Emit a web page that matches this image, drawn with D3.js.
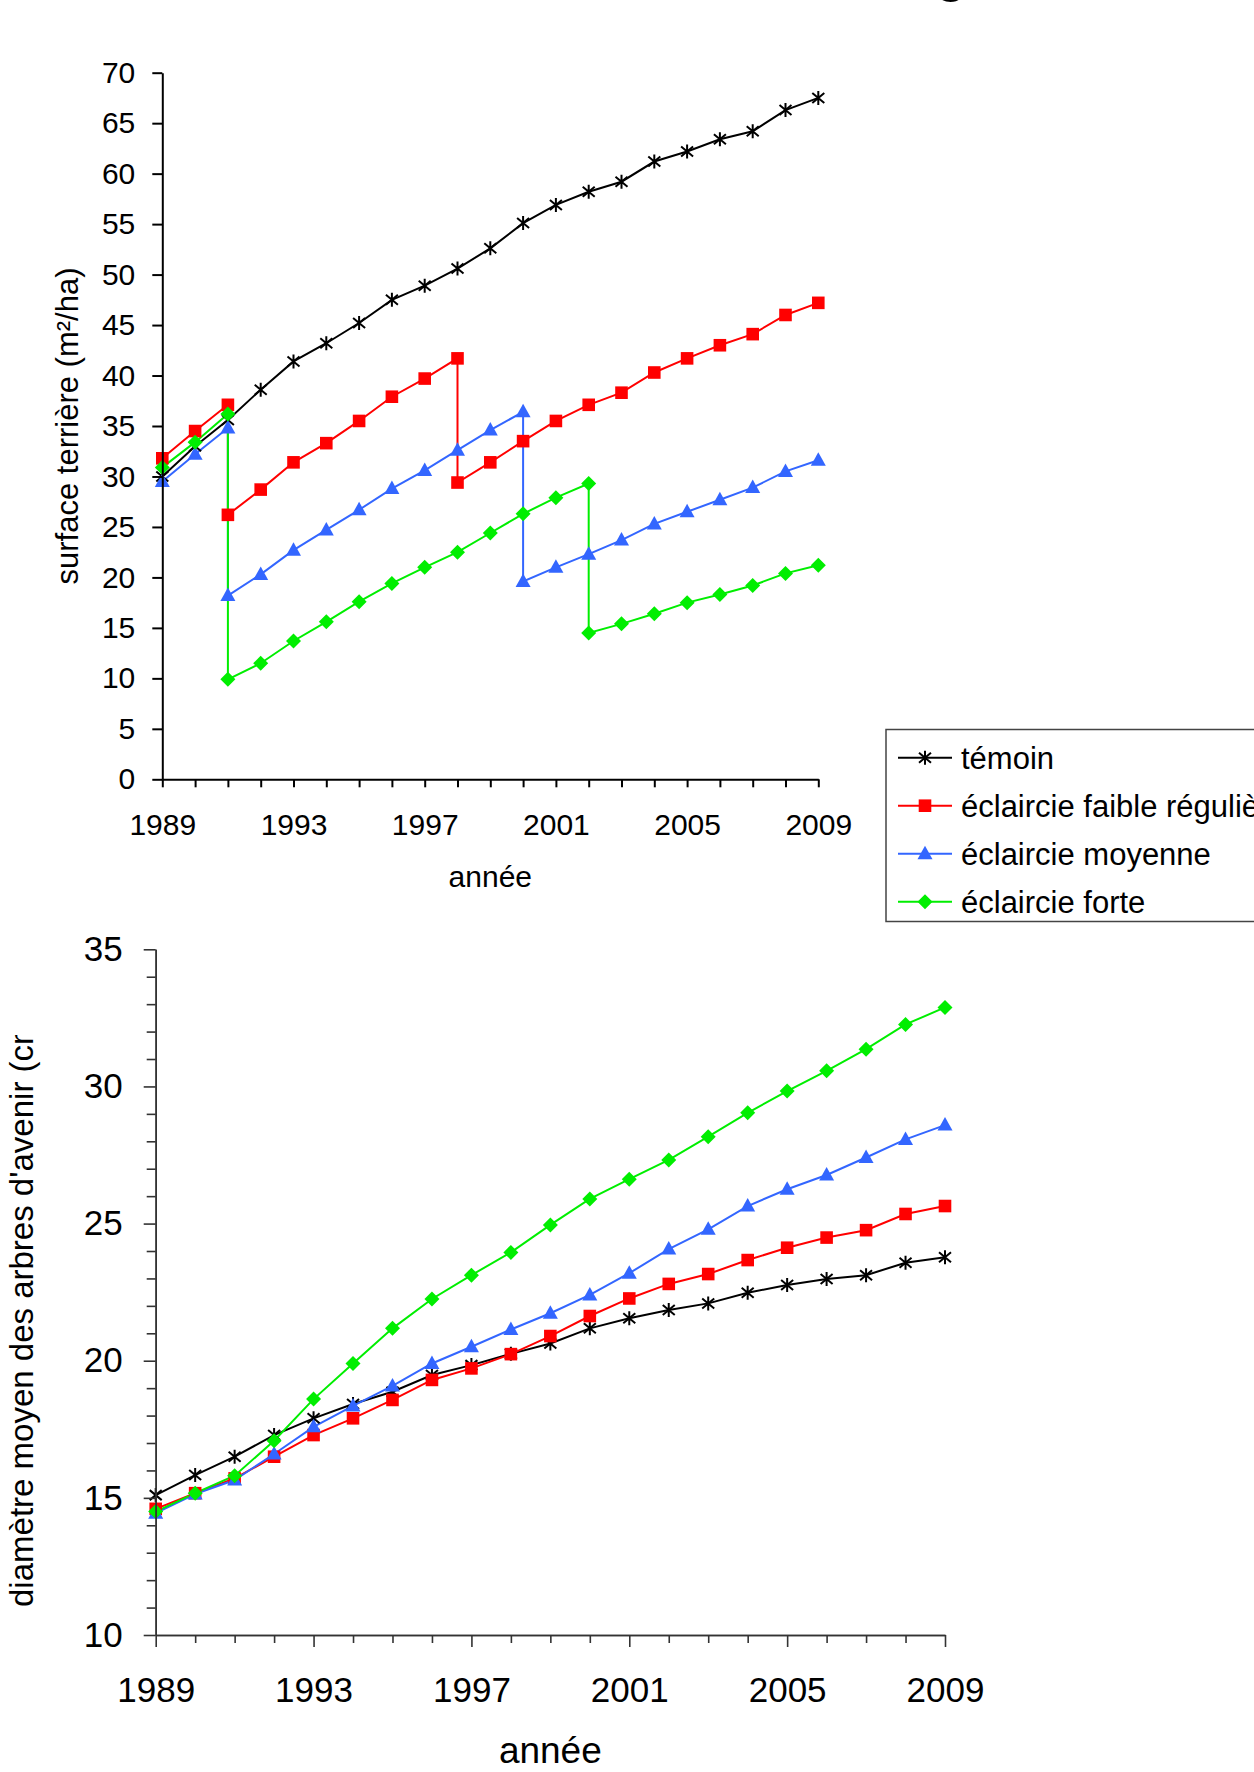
<!DOCTYPE html>
<html>
<head>
<meta charset="utf-8">
<script src="https://d3js.org/d3.v7.min.js"></script>
<style>
  body { margin: 0; background: #fff; }
  svg { display: block; font-family: "Liberation Sans", Arial, sans-serif; }
  .axis text { fill: #000; }
</style>
</head>
<body>
<div id="chart"></div>
<script>
// years on the x axis
var years = [1989, 1990, 1991, 1992, 1993, 1994, 1995, 1996, 1997, 1998, 1999,
             2000, 2001, 2002, 2003, 2004, 2005, 2006, 2007, 2008, 2009];
var labelYears = [1989, 1993, 1997, 2001, 2005, 2009];

var seriesNames = ["témoin", "éclaircie faible régulière", "éclaircie moyenne", "éclaircie forte"];
var seriesColors = ["#000000", "#ff0000", "#3366ff", "#00ee00"];
var seriesShapes = ["star", "square", "triangle", "diamond"];

// surface terrière (m²/ha) : [year, value], a thinning year appears twice (before / after)
var temoinG = [[1989, 30.0], [1990, 33.0], [1991, 35.6], [1992, 38.6], [1993, 41.4], [1994, 43.2],
  [1995, 45.2], [1996, 47.5], [1997, 48.9], [1998, 50.6], [1999, 52.6], [2000, 55.1], [2001, 56.9],
  [2002, 58.2], [2003, 59.2], [2004, 61.2], [2005, 62.2], [2006, 63.4], [2007, 64.2], [2008, 66.3], [2009, 67.5]];
var faibleG = [[1989, 31.8], [1990, 34.5], [1991, 37.1], [1991, 26.2], [1992, 28.7], [1993, 31.4],
  [1994, 33.3], [1995, 35.5], [1996, 37.9], [1997, 39.7], [1998, 41.7], [1998, 29.4], [1999, 31.4],
  [2000, 33.5], [2001, 35.5], [2002, 37.1], [2003, 38.3], [2004, 40.3], [2005, 41.7], [2006, 43.0],
  [2007, 44.1], [2008, 46.0], [2009, 47.2]];
var moyenneG = [[1989, 29.5], [1990, 32.2], [1991, 34.8], [1991, 18.2], [1992, 20.3], [1993, 22.7],
  [1994, 24.7], [1995, 26.7], [1996, 28.8], [1997, 30.6], [1998, 32.6], [1999, 34.6], [2000, 36.4],
  [2000, 19.6], [2001, 21.0], [2002, 22.3], [2003, 23.7], [2004, 25.3], [2005, 26.5], [2006, 27.7],
  [2007, 28.9], [2008, 30.5], [2009, 31.6]];
var forteG = [[1989, 30.9], [1990, 33.4], [1991, 36.2], [1991, 9.9], [1992, 11.5], [1993, 13.7],
  [1994, 15.6], [1995, 17.6], [1996, 19.4], [1997, 21.0], [1998, 22.5], [1999, 24.4], [2000, 26.3],
  [2001, 27.9], [2002, 29.3], [2002, 14.5], [2003, 15.4], [2004, 16.4], [2005, 17.5], [2006, 18.3],
  [2007, 19.2], [2008, 20.4], [2009, 21.2]];

// diamètre moyen des arbres d'avenir (cm), one value per year
var temoinD = [15.10, 15.83, 16.50, 17.29, 17.90, 18.42, 18.87, 19.48, 19.84, 20.25, 20.63,
  21.18, 21.55, 21.85, 22.09, 22.48, 22.76, 22.98, 23.12, 23.57, 23.77];
var faibleD = [14.60, 15.17, 15.71, 16.50, 17.29, 17.90, 18.57, 19.30, 19.72, 20.24, 20.90,
  21.63, 22.27, 22.80, 23.16, 23.67, 24.12, 24.49, 24.76, 25.35, 25.64];
var moyenneD = [14.44, 15.14, 15.65, 16.60, 17.59, 18.35, 19.08, 19.90, 20.51, 21.14, 21.73,
  22.40, 23.19, 24.07, 24.79, 25.64, 26.25, 26.77, 27.41, 28.07, 28.59];
var forteD = [14.50, 15.17, 15.81, 17.08, 18.60, 19.90, 21.18, 22.25, 23.12, 23.95, 24.95,
  25.90, 26.62, 27.32, 28.17, 29.04, 29.83, 30.57, 31.36, 32.26, 32.88];

var topTicks = [0, 5, 10, 15, 20, 25, 30, 35, 40, 45, 50, 55, 60, 65, 70];
var botTicks = [10, 15, 20, 25, 30, 35];
var botMinor = [11, 12, 13, 14, 16, 17, 18, 19, 21, 22, 23, 24, 26, 27, 28, 29, 31, 32, 33, 34];

var W = 1254, H = 1772;
var svg = d3.select("#chart").append("svg").attr("width", W).attr("height", H);

// marker paths
function marker(shape) {
  if (shape == "square") return "M-6.3,-6.3H6.3V6.3H-6.3Z";
  if (shape == "triangle") return "M0,-8L7.5,5.5H-7.5Z";
  if (shape == "diamond") return "M0,-7.5L7.5,0L0,7.5L-7.5,0Z";
  return "M0,-7V7M-6,-5L6,5M-6,5L6,-5";
}
function drawMarkers(g, pts, i) {
  g.selectAll(null).data(pts).enter().append("path")
    .attr("transform", function(d) { return "translate(" + d[0] + "," + d[1] + ")"; })
    .attr("d", marker(seriesShapes[i]))
    .attr("fill", seriesShapes[i] == "star" ? "none" : seriesColors[i])
    .attr("stroke", seriesShapes[i] == "star" ? seriesColors[i] : "none")
    .attr("stroke-width", 2);
}

// fragment of the cut title
svg.append("text").attr("x", 936).attr("y", -8)
  .attr("font-size", 50).attr("font-weight", "bold").text("g");

// ---------- top chart ----------
var xT = d3.scaleLinear().domain([1989, 2009]).range([162.3, 818.3]);
var yT = d3.scaleLinear().domain([0, 70]).range([779.3, 72.7]);

var gTop = svg.append("g");
var lineT = d3.line().x(function(d) { return xT(d[0]); }).y(function(d) { return yT(d[1]); });

[temoinG, faibleG, moyenneG, forteG].forEach(function(s, i) {
  gTop.append("path").datum(s).attr("d", lineT)
    .attr("fill", "none").attr("stroke", seriesColors[i]).attr("stroke-width", 2);
});
[temoinG, faibleG, moyenneG, forteG].forEach(function(s, i) {
  drawMarkers(gTop, s.map(function(d) { return [xT(d[0]), yT(d[1])]; }), i);
});

var yAxT = gTop.append("g").attr("class", "axis")
  .attr("transform", "translate(" + xT(1989) + ",0)")
  .call(d3.axisLeft(yT).tickValues(topTicks).tickSize(10).tickSizeOuter(0).tickPadding(17));
var xAxT = gTop.append("g").attr("class", "axis")
  .attr("transform", "translate(0," + yT(0) + ")")
  .call(d3.axisBottom(xT).tickValues(years).tickSize(8).tickSizeOuter(0).tickPadding(26)
    .tickFormat(function(d) { return labelYears.indexOf(d) >= 0 ? d : ""; }));
[yAxT, xAxT].forEach(function(a) {
  a.selectAll("path, line").attr("stroke", "#000").attr("stroke-width", 2);
  a.selectAll("text").attr("font-size", 30).attr("font-family", "Liberation Sans, Arial, sans-serif");
});

gTop.append("text").attr("x", (xT(1989) + xT(2009)) / 2).attr("y", 887)
  .attr("text-anchor", "middle").attr("font-size", 30).text("année");
gTop.append("text").attr("transform", "translate(78,426) rotate(-90)")
  .attr("text-anchor", "middle").attr("font-size", 31).text("surface terrière (m²/ha)");

// legend
var leg = svg.append("g");
leg.append("rect").attr("x", 886).attr("y", 729.5).attr("width", 420).attr("height", 192)
  .attr("fill", "#fff").attr("stroke", "#444").attr("stroke-width", 1.5);
seriesNames.forEach(function(n, i) {
  var yy = 757.7 + i * 48;
  leg.append("line").attr("x1", 898).attr("x2", 952).attr("y1", yy).attr("y2", yy)
    .attr("stroke", seriesColors[i]).attr("stroke-width", 2);
  drawMarkers(leg, [[925, yy]], i);
  leg.append("text").attr("x", 961).attr("y", yy + 11).attr("font-size", 31).text(n);
});

// ---------- bottom chart ----------
var xB = d3.scaleLinear().domain([1989, 2009]).range([155.7, 945]);
var yB = d3.scaleLinear().domain([10, 35]).range([1635, 949.3]);

var gBot = svg.append("g");
var lineB = d3.line().x(function(d, i) { return xB(years[i]); }).y(function(d) { return yB(d); });

[temoinD, faibleD, moyenneD, forteD].forEach(function(s, i) {
  gBot.append("path").datum(s).attr("d", lineB)
    .attr("fill", "none").attr("stroke", seriesColors[i]).attr("stroke-width", 2);
});
[temoinD, faibleD, moyenneD, forteD].forEach(function(s, i) {
  drawMarkers(gBot, s.map(function(d, j) { return [xB(years[j]), yB(d)]; }), i);
});

var yMinB = gBot.append("g").attr("class", "axis")
  .attr("transform", "translate(" + xB(1989) + ",0)")
  .call(d3.axisLeft(yB).tickValues(botMinor).tickSize(9).tickSizeOuter(0).tickFormat(""));
var yAxB = gBot.append("g").attr("class", "axis")
  .attr("transform", "translate(" + xB(1989) + ",0)")
  .call(d3.axisLeft(yB).tickValues(botTicks).tickSize(12).tickSizeOuter(0).tickPadding(21));
var xMinB = gBot.append("g").attr("class", "axis")
  .attr("transform", "translate(0," + yB(10) + ")")
  .call(d3.axisBottom(xB).tickValues(years.filter(function(y) { return labelYears.indexOf(y) < 0; }))
    .tickSize(8).tickSizeOuter(0).tickFormat(""));
var xAxB = gBot.append("g").attr("class", "axis")
  .attr("transform", "translate(0," + yB(10) + ")")
  .call(d3.axisBottom(xB).tickValues(labelYears).tickSize(12).tickSizeOuter(0).tickPadding(30)
    .tickFormat(d3.format("d")));
[yMinB, yAxB, xMinB, xAxB].forEach(function(a) {
  a.selectAll("path, line").attr("stroke", "#333").attr("stroke-width", 1.6);
  a.selectAll("text").attr("font-size", 35).attr("font-family", "Liberation Sans, Arial, sans-serif");
});

gBot.append("text").attr("x", (xB(1989) + xB(2009)) / 2).attr("y", 1763)
  .attr("text-anchor", "middle").attr("font-size", 37).text("année");

// the axis title is cut by the chart frame in the reference
svg.append("clipPath").attr("id", "clipT")
  .append("rect").attr("x", 0).attr("y", 1035).attr("width", 120).attr("height", 700);
gBot.append("g").attr("clip-path", "url(#clipT)")
  .append("text").attr("transform", "translate(33,1607) rotate(-90)")
  .attr("font-size", 33).text("diamètre moyen des arbres d'avenir (cm)");
</script>
</body>
</html>
